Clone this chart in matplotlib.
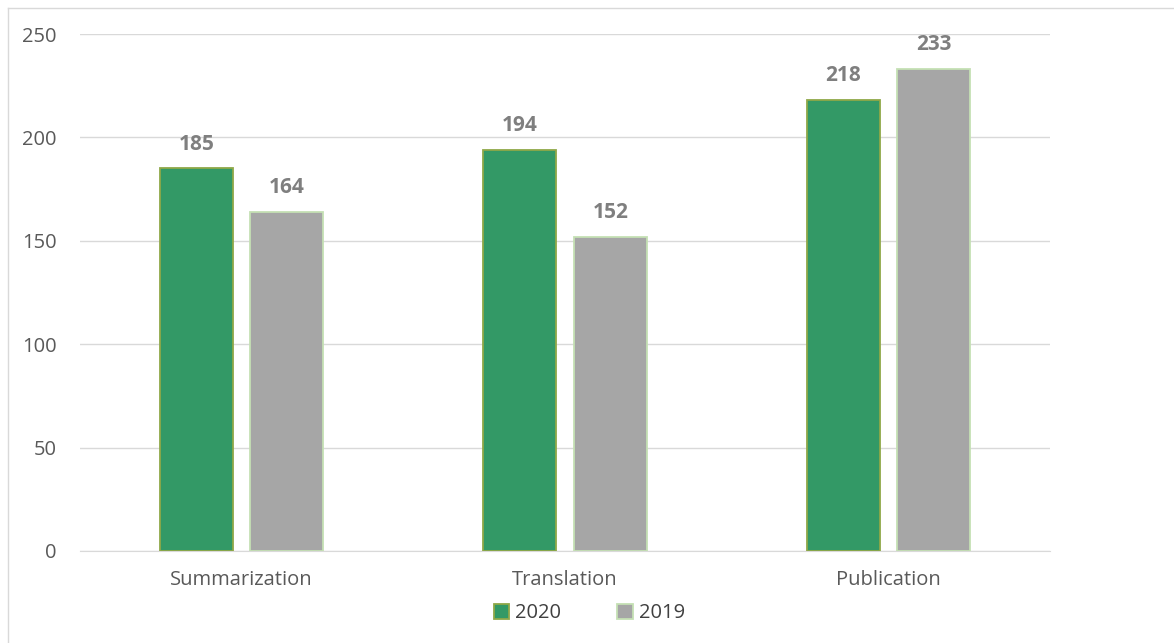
import matplotlib
matplotlib.use("Agg")
import matplotlib.pyplot as plt
import numpy as np

categories = ["Summarization", "Translation", "Publication"]
series_names = ["2020", "2019"]
values_2020 = [185, 194, 218]
values_2019 = [164, 152, 233]

plt.rcParams['font.family'] = ['Open Sans', 'DejaVu Sans']

fig = plt.figure(figsize=(11.74, 6.43), dpi=100)
ax = fig.add_axes([0.0681, 0.1431, 0.8263, 0.804])

x = np.arange(len(categories))
w = 0.226
off = 0.14
b1 = ax.bar(x - off, values_2020, w, color="#339966", edgecolor="#8FA848", linewidth=1.3, label=series_names[0], zorder=3)
b2 = ax.bar(x + off, values_2019, w, color="#A6A6A6", edgecolor="#C5E0B4", linewidth=1.3, label=series_names[1], zorder=3)

for bars in (b1, b2):
    for r in bars:
        ax.annotate(f"{int(r.get_height())}", (r.get_x() + r.get_width() / 2, r.get_height()),
                    xytext=(0, 10), textcoords="offset points", ha="center", va="bottom",
                    fontsize=15, fontweight="bold", color="#7F7F7F")

ax.set_xlim(-0.5, 2.5)
ax.set_ylim(0, 250)
ax.set_yticks(range(0, 251, 50))
ax.set_xticks(x)
ax.set_xticklabels(categories)
ax.tick_params(axis="both", length=0, labelsize=14.5, colors="#595959")
ax.tick_params(axis="x", pad=14)
ax.tick_params(axis="y", pad=17)
ax.grid(axis="y", color="#D9D9D9", linewidth=1, zorder=0)
for s in ["top", "right", "left"]:
    ax.spines[s].set_visible(False)
ax.spines["bottom"].set_color("#D9D9D9")

leg = fig.legend(handles=[b1, b2], labels=series_names, loc="center", bbox_to_anchor=(0.502, 0.046),
                 ncol=2, frameon=False, fontsize=14.5, handlelength=0.75, handleheight=0.75,
                 handletextpad=0.3, columnspacing=2.8, labelcolor="#404040", borderaxespad=0)

fig.add_artist(plt.Line2D([8/1174, 8/1174], [0, 1 - 8/643], transform=fig.transFigure, color="#D9D9D9", linewidth=1))
fig.add_artist(plt.Line2D([8/1174, 1], [1 - 8/643, 1 - 8/643], transform=fig.transFigure, color="#D9D9D9", linewidth=1))

fig.savefig("out.png", dpi=100)
